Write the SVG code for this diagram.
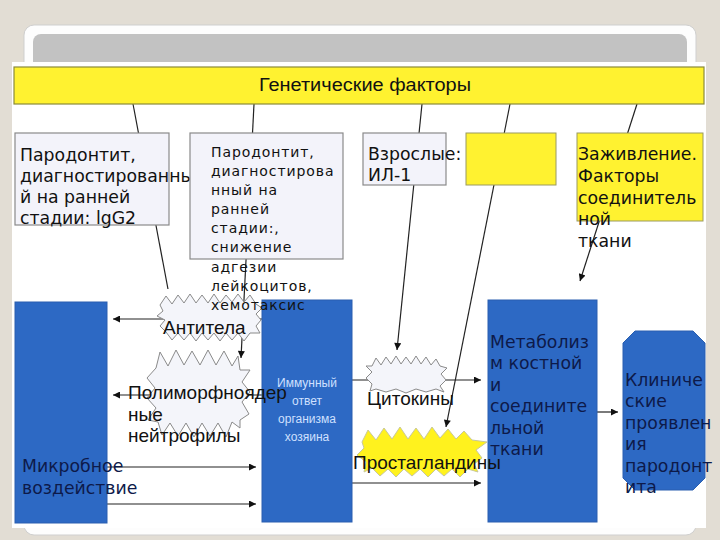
<svg xmlns="http://www.w3.org/2000/svg" width="720" height="540" viewBox="0 0 720 540">
<defs>
<marker id="ah" viewBox="0 0 10 10" refX="10" refY="5" markerWidth="9" markerHeight="7" markerUnits="userSpaceOnUse" orient="auto">
<path d="M0,0 L10,5 L0,10 z" fill="#111"/>
</marker>
<style>
.ln{stroke:#222;stroke-width:1.2;fill:none}
.la{stroke:#222;stroke-width:1.2;fill:none;marker-end:url(#ah)}
.wbox{fill:#f3f3fa;stroke:#8a8a8a;stroke-width:1.2}
.ybox{fill:#fff230;stroke:#9a9a60;stroke-width:1}
.blue{fill:#2d69c4;stroke:#2a5fb0;stroke-width:1}
.t{font-family:"DejaVu Sans",Verdana,sans-serif;font-size:17.3px;fill:#111}
.t2{font-family:"DejaVu Sans",Verdana,sans-serif;font-size:14px;letter-spacing:0.9px;fill:#111}
.ta{font-family:"Liberation Sans",Arial,sans-serif;font-size:19px;fill:#111}
.tn{font-family:"DejaVu Sans",Verdana,sans-serif;font-size:17.3px;fill:#0d1a4a}
.tw{font-family:"Liberation Sans",Arial,sans-serif;font-size:12px;fill:#cfe0ff}
.burst{fill:#f4f5fa;stroke:#8a8a8a;stroke-width:1}
.yburst{fill:#fff21e;stroke:#c8c89a;stroke-width:1}
</style>
</defs>
<rect x="0" y="0" width="720" height="540" fill="#e2ddd4"/>
<rect x="24" y="25" width="672" height="510" rx="10" fill="#fdfdfd" stroke="#cfcfcf" stroke-width="1"/>
<rect x="33" y="34" width="654" height="40" rx="8" fill="#c2c2c2"/>
<rect x="12" y="62" width="694" height="466" fill="#ffffff"/>

<g id="connectors">
<line class="ln" x1="133" y1="104" x2="168" y2="289"/>
<line class="la" x1="254" y1="104" x2="241" y2="358"/>
<line class="la" x1="422" y1="104" x2="397" y2="350"/>
<line class="la" x1="510" y1="104" x2="446" y2="427"/>
<line class="la" x1="637" y1="104" x2="580" y2="281"/>
<line class="la" x1="262" y1="319" x2="113" y2="319"/>
<line class="la" x1="262" y1="395" x2="113" y2="395"/>
<line class="la" x1="107" y1="467" x2="256" y2="467"/>
<line class="la" x1="107" y1="504" x2="256" y2="504"/>
<line class="la" x1="352" y1="380" x2="481" y2="380"/>
<line class="la" x1="352" y1="483" x2="481" y2="483"/>
<line class="la" x1="597" y1="412" x2="618" y2="412"/>
</g>

<g id="genetic">
<rect x="14" y="67" width="690" height="37" fill="#fff230" stroke="#8a8a3a" stroke-width="1.2"/>
<text x="365" y="91" text-anchor="middle" font-family="'Liberation Sans',Arial,sans-serif" font-size="17.5px" fill="#111" textLength="212" lengthAdjust="spacingAndGlyphs">Генетические факторы</text>
</g>

<g id="box1">
<rect class="wbox" x="15" y="133" width="154" height="92"/>
<text class="t"><tspan x="20" y="161">Пародонтит,</tspan><tspan x="20" y="182">диагностированны</tspan><tspan x="20" y="203">й на ранней</tspan><tspan x="20" y="224">стадии: lgG2</tspan></text>
</g>

<g id="box3">
<rect class="wbox" x="363" y="133" width="83" height="52"/>
<text class="t"><tspan x="368" y="160">Взрослые:</tspan><tspan x="368" y="181">ИЛ-1</tspan></text>
</g>

<g id="box4">
<rect class="ybox" x="466" y="133" width="90" height="52"/>
</g>

<g id="box5">
<rect class="ybox" x="577" y="133" width="126" height="88"/>
<text class="t"><tspan x="578" y="160">Заживление.</tspan><tspan x="578" y="182">Факторы</tspan><tspan x="578" y="204">соединитель</tspan><tspan x="578" y="225">ной</tspan><tspan x="578" y="247">ткани</tspan></text>
</g>

<g id="microbe">
<rect class="blue" x="15" y="302" width="92" height="221"/>
<text class="tn"><tspan x="22" y="472">Микробное</tspan><tspan x="22" y="494">воздействие</tspan></text>
</g>

<g id="immune">
<rect class="blue" x="262" y="300" width="90" height="222"/>
<text class="tw" text-anchor="middle"><tspan x="307" y="387">Иммунный</tspan><tspan x="307" y="405">ответ</tspan><tspan x="307" y="423">организма</tspan><tspan x="307" y="441">хозяина</tspan></text>
</g>

<g id="metabolism">
<rect class="blue" x="488" y="300" width="109" height="222"/>
<text class="tn"><tspan x="490" y="348">Метаболиз</tspan><tspan x="490" y="369">м костной</tspan><tspan x="490" y="391">и</tspan><tspan x="490" y="412">соедините</tspan><tspan x="490" y="434">льной</tspan><tspan x="490" y="455">ткани</tspan></text>
</g>

<g id="clinical">
<polygon class="blue" points="635,331 693,331 705,343 705,478 693,490 635,490 623,478 623,343"/>
<text class="tn"><tspan x="625" y="386">Клиниче</tspan><tspan x="625" y="407">ские</tspan><tspan x="625" y="429">проявлен</tspan><tspan x="625" y="450">ия</tspan><tspan x="625" y="472">пародонт</tspan><tspan x="625" y="493">ита</tspan></text>
</g>

<g id="antibodies">
<polygon class="burst" points="160,305 166,296 172,304 178,295 184,303 190,294 196,303 202,295 208,303 214,294 220,303 226,295 232,302 238,294 244,302 250,295 256,304 262,308 256,314 261,320 256,326 260,333 250,333 244,341 238,333 232,340 226,333 220,341 214,333 208,340 202,333 196,341 190,333 184,340 178,333 172,340 166,332 160,326 165,320 157,316 163,311"/>
<text class="ta" x="163" y="334">Антитела</text>
</g>

<g id="neutrophils">
<polygon class="burst" points="156,368 160,352 168,366 176,350 184,365 192,351 200,365 208,350 216,365 224,351 232,366 238,356 240,370 250,370 242,382 250,392 242,402 249,414 240,420 240,428 232,422 226,437 218,423 210,436 202,423 194,437 186,423 178,436 170,423 162,435 158,422 148,420 156,408 147,398 155,388 147,378"/>
<text class="ta"><tspan x="128" y="399">Полиморфноядер</tspan><tspan x="128" y="421">ные</tspan><tspan x="128" y="442">нейтрофилы</tspan></text>
</g>

<g id="cytokines">
<polygon class="burst" points="372,366 376,358 381,365 386,357 391,364 396,356 401,364 406,357 411,364 416,356 421,364 426,357 431,365 436,359 440,366 447,368 441,374 446,380 440,386 444,392 436,389 426,392 416,389 406,393 396,389 386,392 376,389 370,391 372,384 366,378 372,372 366,366"/>
<text class="ta" x="367" y="405">Цитокины</text>
</g>

<g id="prostaglandins">
<polygon class="yburst" points="362,442 368,430 376,440 384,428 392,439 400,427 408,439 416,428 424,439 432,427 440,438 448,429 456,439 464,431 472,440 487,442 476,450 482,458 474,464 478,472 468,469 460,477 452,469 444,476 436,469 428,477 420,469 412,476 404,469 396,477 388,469 380,476 372,468 364,472 366,462 357,455 364,448"/>
<text class="ta" x="353" y="469">Простагландины</text>
</g>

<g id="box2">
<rect class="wbox" x="190" y="133" width="153" height="126"/>
<text class="t2"><tspan x="211" y="157">Пародонтит,</tspan><tspan x="211" y="176">диагностирова</tspan><tspan x="211" y="195">нный на</tspan><tspan x="211" y="214">ранней</tspan><tspan x="211" y="233">стадии:,</tspan><tspan x="211" y="252">снижение</tspan><tspan x="211" y="272">адгезии</tspan><tspan x="211" y="291">лейкоцитов,</tspan><tspan x="211" y="310">хемотаксис</tspan></text>
</g>
</svg>
